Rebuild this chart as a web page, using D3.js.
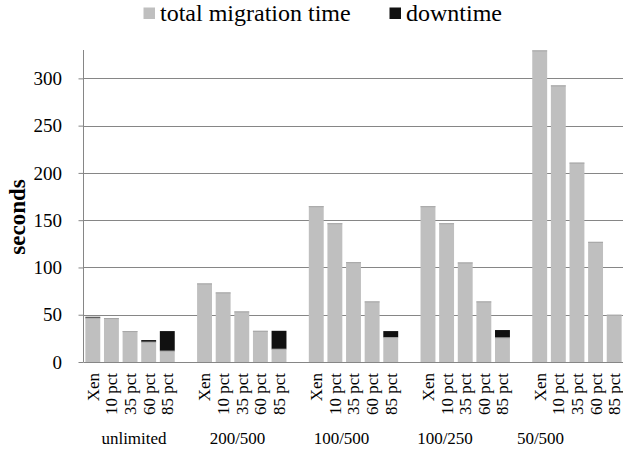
<!DOCTYPE html>
<html>
<head>
<meta charset="utf-8">
<script src="https://cdn.jsdelivr.net/npm/d3@7/dist/d3.min.js"></script>
<style>
  html, body { margin: 0; padding: 0; background: #fff; }
  svg { display: block; }
  svg text { font-family: "Liberation Serif", "Times New Roman", serif !important; }
</style>
</head>
<body>
<svg id="chart" width="623" height="453"></svg>
<script>
// ---- data ----
const groups = ["unlimited", "200/500", "100/500", "100/250", "50/500"];
const configs = ["Xen", "10 pct", "35 pct", "60 pct", "85 pct"];
const seriesNames = ["total migration time", "downtime"];
const totalUnlimited = [47, 46.5, 32.7, 21.5, 12];
const total200_500 = [83.1, 73.6, 53.5, 33, 14];
const total100_500 = [164.8, 146.8, 105.6, 64.1, 26.4];
const total100_250 = [164.8, 146.8, 105.3, 64.1, 26.1];
const total50_500 = [329.6, 292.6, 210.9, 127.1, 50];
const downUnlimited = [0.8, 0, 0, 1.7, 20.7];
const down200_500 = [0, 0, 0, 0, 19];
const down100_500 = [0, 0, 0, 0, 6.3];
const down100_250 = [0, 0, 0, 0, 7.7];
const down50_500 = [0, 0, 0, 0, 0];
const yTicks = [0, 50, 100, 150, 200, 250, 300];
const yMax = 330;

const totals = [totalUnlimited, total200_500, total100_500, total100_250, total50_500];
const downs = [downUnlimited, down200_500, down100_500, down100_250, down50_500];

// ---- layout ----
const FONT = "Liberation Serif, Times New Roman, serif";
const svg = d3.select("#chart");
const plot = { left: 83.5, right: 623.5, top: 50, bottom: 362 };
const colors = { total: "#bfbfbf", down: "#111111", grid: "#868686" };

// slots: each group has its 5 configs and (except the last) a blank spacer slot
const slots = [];
groups.forEach((g, gi) => {
  configs.forEach(c => slots.push(g + "|" + c));
  if (gi < groups.length - 1) slots.push(g + "|_blank");
});

const x = d3.scaleBand(slots, [plot.left, plot.right]).paddingInner(0.2).paddingOuter(0.1);
const y = d3.scaleLinear([0, yMax], [plot.bottom, plot.top]);
// group-level category labels (placed as in the original layout)
const xGroupLabel = d3.scaleOrdinal(groups, [134, 237.5, 341.5, 445, 540.5]);

const rows = [];
groups.forEach((g, gi) => configs.forEach((c, ci) => {
  rows.push({ group: g, config: c, key: g + "|" + c, total: totals[gi][ci], down: downs[gi][ci] });
}));

// gridlines
svg.append("g").selectAll("line").data(yTicks.filter(t => t > 0)).join("line")
  .attr("x1", plot.left).attr("x2", plot.right)
  .attr("y1", d => Math.round(y(d)) + 0.5).attr("y2", d => Math.round(y(d)) + 0.5)
  .attr("stroke", colors.grid).attr("stroke-width", 1);

// bars: total migration time
svg.append("g").selectAll("rect").data(rows).join("rect")
  .attr("x", d => x(d.key)).attr("width", x.bandwidth())
  .attr("y", d => y(d.total)).attr("height", d => y(0) - y(d.total))
  .attr("fill", colors.total);
// top edge of gray bars
svg.append("g").selectAll("line").data(rows).join("line")
  .attr("x1", d => x(d.key)).attr("x2", d => x(d.key) + x.bandwidth())
  .attr("y1", d => y(d.total) + 0.5).attr("y2", d => y(d.total) + 0.5)
  .attr("stroke", "#a5a5a5").attr("stroke-width", 1);
// downtime stacked on top
svg.append("g").selectAll("rect").data(rows.filter(d => d.down > 0)).join("rect")
  .attr("x", d => x(d.key)).attr("width", x.bandwidth())
  .attr("y", d => y(d.total + d.down)).attr("height", d => y(d.total) - y(d.total + d.down))
  .attr("fill", colors.down);

// y axis
const yAxis = d3.axisLeft(y).tickValues(yTicks).tickSize(5).tickPadding(16.5);
const gy = svg.append("g").attr("transform", `translate(${plot.left},0)`).call(yAxis)
  .attr("font-family", FONT).attr("font-size", 19);
gy.select(".domain").remove();
gy.selectAll(".tick line").attr("stroke", colors.grid);
gy.selectAll(".tick text").attr("font-size", 19).attr("font-family", FONT).attr("fill", "#000");
svg.append("line").attr("x1", plot.left).attr("x2", plot.left)
  .attr("y1", plot.top).attr("y2", plot.bottom).attr("stroke", colors.grid);
svg.append("line").attr("x1", plot.left).attr("x2", plot.right)
  .attr("y1", plot.bottom + 0.5).attr("y2", plot.bottom + 0.5).attr("stroke", colors.grid);

// x config labels (rotated)
svg.append("g").selectAll("text").data(rows).join("text")
  .attr("transform", d => `translate(${x(d.key) + x.bandwidth() / 2},${plot.bottom + 11}) rotate(-90)`)
  .attr("text-anchor", "end").attr("dy", "0.35em")
  .attr("font-family", FONT).attr("font-size", 17).attr("fill", "#000")
  .text(d => d.config);

// group labels
svg.append("g").selectAll("text").data(groups).join("text")
  .attr("x", d => xGroupLabel(d))
  .attr("y", 444).attr("text-anchor", "middle")
  .attr("font-family", FONT).attr("font-size", 17).attr("fill", "#000")
  .text(d => d);

// y axis title
svg.append("text").attr("transform", "translate(25,217) rotate(-90)")
  .attr("text-anchor", "middle").attr("font-family", FONT)
  .attr("font-size", 23).attr("font-weight", "bold").attr("fill", "#000")
  .text("seconds");

// legend
const legendX = [143.5, 389.5];
const legend = svg.append("g").selectAll("g").data(seriesNames).join("g")
  .attr("transform", (d, i) => `translate(${legendX[i]},0)`);
legend.append("rect").attr("x", 0).attr("y", 7.5).attr("width", 11.5).attr("height", 11.5)
  .attr("fill", (d, i) => i === 0 ? colors.total : colors.down);
legend.append("text").attr("x", 16.5).attr("y", 20.5)
  .attr("font-family", FONT).attr("font-size", 24).attr("fill", "#000")
  .text(d => d);
</script>
</body>
</html>
